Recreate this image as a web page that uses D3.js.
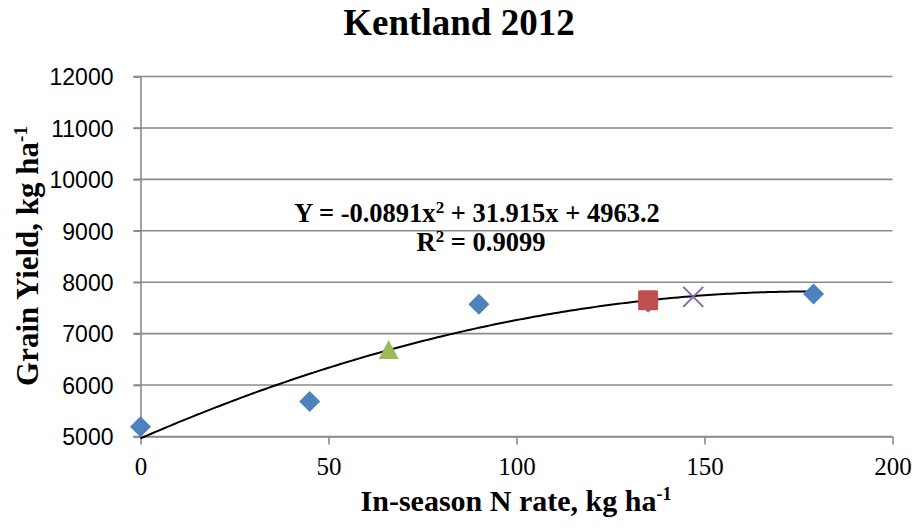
<!DOCTYPE html>
<html>
<head>
<meta charset="utf-8">
<script src="https://cdn.jsdelivr.net/npm/d3@7"></script>
<style>
  body { margin: 0; background: white; }
  svg { display: block; }
</style>
</head>
<body>
<div id="chart"></div>
<script>
// values
const diamondX = [0, 45, 90, 135, 179];
const diamondY = [5190, 5680, 7570, 7610, 7770];
const triangleX = [66];
const triangleY = [6680];
const squareX = [135];
const squareY = [7650];
const crossX = [147];
const crossY = [7715];

const trendCoef = [-0.0891, 31.915, 4963.2]; // a, b, c from the chart label
const trendRange = [0, 179];

const xTicks = [0, 50, 100, 150, 200];
const yTicks = [5000, 6000, 7000, 8000, 9000, 10000, 11000, 12000];

const width = 918, height = 529;
const plot = {left: 140.5, right: 892.5, top: 76.5, bottom: 436.5};
const gridColor = "#8a8a8a";
const serif = "'Liberation Serif', 'Times New Roman', serif";
const sans = "'Liberation Sans', Arial, sans-serif";

const svg = d3.select("#chart").append("svg")
    .attr("width", width).attr("height", height);

const x = d3.scaleLinear().domain([0, 200]).range([plot.left, plot.right]);
const y = d3.scaleLinear().domain([5000, 12000]).range([plot.bottom, plot.top]);

// gridlines
svg.append("g").selectAll("line").data(yTicks).join("line")
    .attr("x1", plot.left - 7).attr("x2", plot.right)
    .attr("y1", d => y(d)).attr("y2", d => y(d))
    .attr("stroke", gridColor).attr("stroke-width", 1.6);

// axes
const yAxis = svg.append("g").attr("transform", `translate(${plot.left},0)`)
    .call(d3.axisLeft(y).tickValues(yTicks).tickSize(7).tickPadding(20).tickFormat(d3.format("d")));
yAxis.select(".domain").attr("stroke", gridColor).attr("stroke-width", 1.6);
yAxis.selectAll(".tick line").attr("stroke", gridColor).attr("stroke-width", 1.6);
yAxis.selectAll("text").attr("font-family", sans).attr("font-size", "23px").attr("fill", "#000").attr("dy", "0.36em");

const xAxis = svg.append("g").attr("transform", `translate(0,${plot.bottom})`)
    .call(d3.axisBottom(x).tickValues(xTicks).tickSize(8).tickSizeOuter(0).tickPadding(13).tickFormat(d3.format("d")));
xAxis.select(".domain").attr("stroke", gridColor).attr("stroke-width", 1.6);
xAxis.selectAll(".tick line").attr("stroke", gridColor).attr("stroke-width", 1.6);
xAxis.selectAll("text").attr("font-family", serif).attr("font-size", "25px").attr("fill", "#000");

// trendline from the fitted polynomial shown on the chart
const trendX = d3.range(trendRange[0], trendRange[1] + 0.5, 1);
const trendLine = d3.line()
    .x(d => x(d))
    .y(d => y(trendCoef[0] * d * d + trendCoef[1] * d + trendCoef[2]));
svg.append("path").datum(trendX)
    .attr("d", trendLine).attr("fill", "none")
    .attr("stroke", "#000").attr("stroke-width", 2);

// markers
const diamonds = diamondX.map((d, i) => ({x: d, y: diamondY[i]}));
svg.append("g").selectAll("path").data(diamonds).join("path")
    .attr("transform", d => `translate(${x(d.x)},${y(d.y)})`)
    .attr("d", "M0,-10.5L10.5,0L0,10.5L-10.5,0Z")
    .attr("fill", "#4f81bd");

const squares = squareX.map((d, i) => ({x: d, y: squareY[i]}));
svg.append("g").selectAll("rect").data(squares).join("rect")
    .attr("x", d => x(d.x) - 10).attr("y", d => y(d.y) - 10)
    .attr("width", 20).attr("height", 20).attr("rx", 1.5)
    .attr("fill", "#c0504d");

const triangles = triangleX.map((d, i) => ({x: d, y: triangleY[i]}));
svg.append("g").selectAll("path").data(triangles).join("path")
    .attr("transform", d => `translate(${x(d.x)},${y(d.y)})`)
    .attr("d", "M0,-10L10,9L-10,9Z")
    .attr("fill", "#9bbb59");

const crosses = crossX.map((d, i) => ({x: d, y: crossY[i]}));
svg.append("g").selectAll("path").data(crosses).join("path")
    .attr("transform", d => `translate(${x(d.x)},${y(d.y)})`)
    .attr("d", "M-10,-10L10,10M10,-10L-10,10")
    .attr("stroke", "#8064a2").attr("stroke-width", 1.8).attr("fill", "none");

// trend label
const eq = svg.append("text").attr("x", 477).attr("y", 222)
    .attr("text-anchor", "middle").attr("font-family", serif)
    .attr("font-weight", "bold").attr("font-size", "26.5px").attr("fill", "#000");
eq.append("tspan").text("Y = -0.0891x");
eq.append("tspan").attr("dy", -9).attr("font-size", "17px").text("2");
eq.append("tspan").attr("dy", 9).text(" + 31.915x + 4963.2");

const r2 = svg.append("text").attr("x", 481).attr("y", 251)
    .attr("text-anchor", "middle").attr("font-family", serif)
    .attr("font-weight", "bold").attr("font-size", "26.5px").attr("fill", "#000");
r2.append("tspan").text("R");
r2.append("tspan").attr("dy", -9).attr("font-size", "17px").text("2");
r2.append("tspan").attr("dy", 9).text(" = 0.9099");

// titles
svg.append("text").attr("x", 459).attr("y", 35)
    .attr("text-anchor", "middle").attr("font-family", serif)
    .attr("font-weight", "bold").attr("font-size", "37px").text("Kentland 2012");

const xt = svg.append("text").attr("x", 516).attr("y", 511)
    .attr("text-anchor", "middle").attr("font-family", serif)
    .attr("font-weight", "bold").attr("font-size", "30px");
xt.append("tspan").text("In-season N rate, kg ha");
xt.append("tspan").attr("dy", -11).attr("font-size", "18px").text("-1");

const yt = svg.append("text")
    .attr("transform", "translate(38,256) rotate(-90)")
    .attr("text-anchor", "middle").attr("font-family", serif)
    .attr("font-weight", "bold").attr("font-size", "31px");
yt.append("tspan").text("Grain Yield, kg ha");
yt.append("tspan").attr("dy", -11).attr("font-size", "19px").text("-1");
</script>
</body>
</html>
